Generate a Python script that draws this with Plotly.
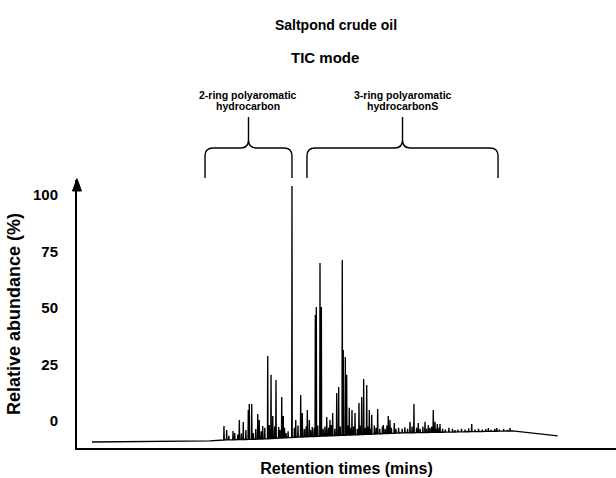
import numpy as np
import plotly.graph_objects as go

# ---------------- data ----------------
# retention time axis (mins, unlabeled) and relative abundance (%)
base_t = [1.67, 14.8, 16.36, 20.4, 24.8, 30.4, 35.96, 41.5, 48.5, 53.5]
base_v = [-9.3, -8.8, -8.4, -8.0, -7.1, -6.2, -5.3, -4.9, -4.4, -6.6]

peak_t = [16.36, 16.66, 17.37, 17.56, 18.07, 18.51, 19.07, 19.18, 19.45, 19.63,
          20.12, 20.29, 20.67, 21.23, 21.40, 21.60, 21.79, 22.15, 22.45, 22.79,
          22.96, 23.27, 23.93, 24.35, 24.90, 25.08, 25.64, 25.86, 26.19, 26.53,
          26.64, 27.05, 27.20, 27.80, 28.16, 28.46, 28.91, 29.13, 29.53, 29.64,
          29.87, 30.02, 30.31, 30.61, 30.95, 31.39, 31.69, 31.91, 32.25, 32.54,
          32.81, 33.47, 34.10, 34.65, 34.84, 35.32, 37.07, 37.51, 37.99, 38.74,
          39.11, 39.66, 39.85, 40.11, 40.41, 42.08, 43.94, 45.79, 46.72, 48.20]
peak_v = [-2.2, -4.0, -4.4, -5.3, 0.4, -0.4, 4.9, 7.5, 7.5, -5.3,
          3.1, 0.4, -2.2, 28.8, -1.8, 20.4, 2.2, 18.1, -2.7, 10.6,
          2.2, -5.3, 104.0, 0.4, 11.5, 3.5, 4.9, 0.4, -2.7, 46.9,
          50.4, 69.9, 50.4, 1.8, 0.4, 3.5, 12.4, 15.0, 71.2, 31.4,
          28.3, 20.4, 5.8, 4.9, 3.5, 8.0, 10.6, 18.6, 15.9, 4.9,
          2.7, 5.3, -1.8, 2.2, 0.4, -0.9, -0.4, 7.5, -0.9, -0.4,
          -1.8, 4.9, -0.4, -1.3, -1.3, -4.0, -1.3, -3.1, -3.1, -3.1]

grass_t = [16.9, 17.9, 18.3, 18.8, 19.9, 20.5, 20.9, 21.5, 22.0, 22.6, 23.1, 23.5,
           24.2, 24.6, 25.3, 25.5, 26.0, 26.4, 26.8, 27.4, 27.6, 28.0, 28.3, 28.7,
           29.3, 30.2, 30.5, 30.8, 31.2, 31.5, 32.1, 32.4, 32.7, 33.1, 33.3, 33.7,
           34.0, 34.3, 34.5, 35.0, 35.5, 35.8, 36.2, 36.5, 36.8, 37.3, 37.8, 38.2,
           38.5, 38.9, 39.3, 39.5, 40.0, 40.3, 40.7, 41.0, 41.4, 41.8, 42.4, 42.8,
           43.2, 43.6, 44.3, 44.7, 45.1, 45.5, 46.1, 46.5, 47.0, 47.5, 47.9]
grass_v = [-6.5, -6.0, -5.5, -4.0, -3.5, -4.5, -3.0, -3.5, -2.5, -4.0, -3.0, -4.5,
           -3.0, -2.0, -3.5, -2.5, -4.0, -3.0, -2.0, -3.5, -2.5, -3.0, -1.8, -3.5,
           -2.5, -2.0, -3.0, -2.5, -3.5, -2.0, -3.0, -2.5, -3.5, -2.0, -3.0, -3.5,
           -2.5, -3.5, -2.0, -3.0, -3.5, -3.0, -3.5, -2.8, -3.5, -2.5, -3.0, -3.5,
           -2.5, -3.5, -3.0, -2.5, -3.5, -3.0, -3.5, -3.8, -3.0, -3.5, -3.8, -3.5,
           -3.8, -3.2, -3.8, -3.5, -3.8, -3.6, -3.9, -3.5, -3.8, -3.6, -3.9]

y_ticks = [0, 25, 50, 75, 100]
group_labels = [["2-ring polyaromatic", "hydrocarbon"],
                ["3-ring polyaromatic", "hydrocarbonS"]]
group_ranges = [(14.25, 23.93), (25.60, 46.87)]

X_RANGE = [0, 60]
Y_RANGE = [-11.95, 106.6]

# ---------------- build chromatogram trace ----------------
segs = [(t, [t], [v]) for t, v in zip(base_t, base_v)]
for t, v in list(zip(peak_t, peak_v)) + list(zip(grass_t, grass_v)):
    foot = float(np.interp(t, base_t, base_v))
    segs.append((t, [t - 0.03, t, t + 0.03], [foot, v, foot]))
segs.sort(key=lambda s: s[0])
xs, ys = [], []
for _, sx, sy in segs:
    xs += sx
    ys += sy

fig = go.Figure()
fig.add_trace(go.Scatter(x=xs, y=ys, mode="lines",
                         line=dict(color="black", width=1.35),
                         hoverinfo="skip", showlegend=False))

# ---------------- layout ----------------
L, R, T, B = 77, 0, 180, 30
W, H = 616, 478
PW, PH = W - L - R, H - T - B
FONT = "Liberation Sans, Arial, sans-serif"


def xp(t):
    return (t - X_RANGE[0]) / (X_RANGE[1] - X_RANGE[0])


def yp_px(py):
    return (H - B - py) / PH


def xp_px(px):
    return (px - L) / PW


shapes = []
rx, ry = 8 / PW, 8 / PH
yb, yh, ytip = yp_px(178), yp_px(148), yp_px(117)
for (t0, t1) in group_ranges:
    x0, x1 = xp(t0), xp(t1)
    xm = (x0 + x1) / 2
    path = (f"M {x0},{yb} L {x0},{yh - ry} Q {x0},{yh} {x0 + rx},{yh} "
            f"L {xm - rx},{yh} Q {xm},{yh} {xm},{yh + ry} L {xm},{ytip} "
            f"M {xm},{yh + ry} Q {xm},{yh} {xm + rx},{yh} "
            f"L {x1 - rx},{yh} Q {x1},{yh} {x1},{yh - ry} L {x1},{yb}")
    shapes.append(dict(type="path", xref="paper", yref="paper", path=path,
                       line=dict(color="black", width=1.4)))

# arrow head on y axis
ah_w, ah_h = 4.5 / PW, 11 / PH
shapes.append(dict(type="path", xref="paper", yref="paper",
                   path=f"M 0,1.005 L {-ah_w},{1 - ah_h} L {ah_w},{1 - ah_h} Z",
                   fillcolor="black", line=dict(color="black", width=1)))

annotations = [
    dict(text="<b>TIC mode</b>", xref="paper", yref="paper", x=xp_px(325),
         y=yp_px(58), showarrow=False,
         font=dict(family=FONT, size=15, color="black"), yanchor="middle"),
]
for (t0, t1), lines in zip(group_ranges, group_labels):
    for line_txt, py in zip(lines, [95, 106]):
        annotations.append(dict(text=f"<b>{line_txt}</b>", xref="x", yref="paper",
                                x=(t0 + t1) / 2, y=yp_px(py), showarrow=False,
                                font=dict(family=FONT, size=10.5, color="black"),
                                yanchor="middle"))

fig.update_layout(
    width=W, height=H,
    margin=dict(l=L, r=R, t=T, b=B),
    paper_bgcolor="white", plot_bgcolor="white",
    title=dict(text="<b>Saltpond crude oil</b>", x=336 / W, xref="container",
               y=1 - 25 / H, yref="container", yanchor="middle", xanchor="center",
               font=dict(family=FONT, size=14, color="black")),
    xaxis=dict(range=X_RANGE, showline=True, linecolor="black", linewidth=2.2,
               showticklabels=False, ticks="", showgrid=False, zeroline=False,
               title=dict(text="<b>Retention times (mins)</b>", standoff=14,
                          font=dict(family=FONT, size=16, color="black"))),
    yaxis=dict(range=Y_RANGE, tickvals=y_ticks, showline=True, linecolor="black",
               linewidth=2, ticks="", showgrid=False, zeroline=False,
               ticklabelstandoff=14,
               tickfont=dict(family=FONT, size=15, color="black", weight="bold"),
               title=dict(text="<b>Relative abundance (%)</b>", standoff=8,
                          font=dict(family=FONT, size=18, color="black"))),
    shapes=shapes, annotations=annotations,
)

fig.write_html("out.html", config={"displayModeBar": False},
               post_script="document.body.style.margin='0px';")
